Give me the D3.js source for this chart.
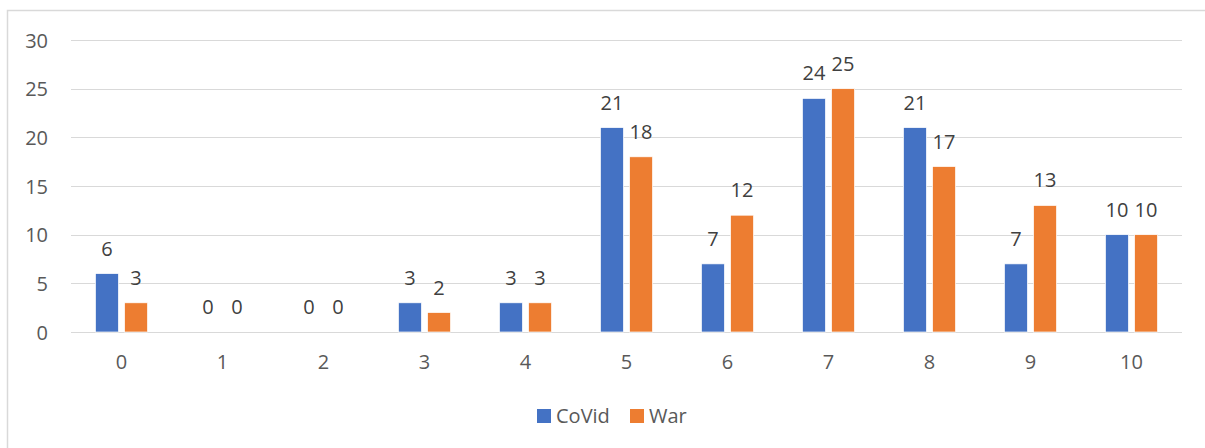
<!DOCTYPE html>
<html lang="en">

<head>
  <meta charset="utf-8">
  <title>CoVid vs War</title>
  <style>
    body {
      margin: 0;
      background: #fff;
    }

    .grid line {
      stroke: #d9d9d9;
      stroke-width: 1.3;
      shape-rendering: crispEdges;
    }

    .axis text {
      font: 20px "Open Sans", sans-serif;
      fill: #595959;
    }

    .label {
      font: 20px "Open Sans", sans-serif;
      fill: #404040;
    }

    .legend text {
      font: 20px "Open Sans", sans-serif;
      fill: #595959;
    }
  </style>
</head>

<body>
  <div id="chart"></div>
</body>
<script src="https://d3js.org/d3.v7.min.js"></script>

<script>

  let categories = ["0", "1", "2", "3", "4", "5", "6", "7", "8", "9", "10"];
  let seriesNames = ["CoVid", "War"];
  let covid = [6, 0, 0, 3, 3, 21, 7, 24, 21, 7, 10];
  let war = [3, 0, 0, 2, 3, 18, 12, 25, 17, 13, 10];
  let yTicks = [0, 5, 10, 15, 20, 25, 30];
  let colors = ["#4472c4", "#ed7d31"];

  let W = 1205;
  let H = 448;
  let plotL = 71, plotR = 1182, plotT = 40, plotB = 332;

  let svg = d3.select("#chart")
    .append("svg")
    .attr("width", W)
    .attr("height", H);

  // chart border (runs off the right and bottom edges)
  svg.append("rect")
    .attr("x", 7.5)
    .attr("y", 10.5)
    .attr("width", W + 20)
    .attr("height", H + 20)
    .attr("fill", "none")
    .attr("stroke", "#d9d9d9")
    .attr("stroke-width", 1.5);

  let x0 = d3.scaleBand().domain(categories).range([plotL, plotR]);
  let x1 = d3.scaleBand().domain(seriesNames).range([0, x0.bandwidth()])
    .paddingInner(0.21).paddingOuter(0.84);
  let y = d3.scaleLinear().domain([0, 30]).range([plotB, plotT]);

  // gridlines
  svg.append("g")
    .attr("class", "grid")
    .selectAll("line")
    .data(yTicks)
    .enter()
    .append("line")
    .attr("x1", plotL)
    .attr("x2", plotR)
    .attr("y1", (d) => Math.round(y(d)) + 0.5)
    .attr("y2", (d) => Math.round(y(d)) + 0.5);

  // y axis labels
  let yAxis = svg.append("g")
    .attr("class", "axis")
    .attr("transform", "translate(" + 48 + ",0)")
    .call(d3.axisLeft(y).tickValues(yTicks).tickSize(0).tickPadding(0));
  yAxis.select(".domain").remove();
  yAxis.selectAll("text").attr("dy", "0.35em");

  // x axis labels
  let xAxis = svg.append("g")
    .attr("class", "axis")
    .attr("transform", "translate(0," + plotB + ")")
    .call(d3.axisBottom(x0).tickSize(0).tickPadding(0));
  xAxis.select(".domain").remove();
  xAxis.selectAll("text").attr("dy", "1.85em");

  let rows = categories.map((c, i) => {
    return { cat: c, values: [covid[i], war[i]] };
  });

  let group = svg.selectAll(".group")
    .data(rows)
    .enter()
    .append("g")
    .attr("class", "group")
    .attr("transform", (d) => "translate(" + x0(d.cat) + ",0)");

  group.selectAll("rect")
    .data((d) => d.values.map((v, j) => ({ name: seriesNames[j], v: v, j: j })))
    .enter()
    .append("rect")
    .attr("x", (d) => x1(d.name))
    .attr("y", (d) => y(d.v))
    .attr("width", x1.bandwidth())
    .attr("height", (d) => y(0) - y(d.v))
    .attr("fill", (d) => colors[d.j])
    .attr("stroke", "#fff")
    .attr("stroke-width", 0.7);

  group.selectAll(".label")
    .data((d) => d.values.map((v, j) => ({ name: seriesNames[j], v: v })))
    .enter()
    .append("text")
    .attr("class", "label")
    .attr("text-anchor", "middle")
    .attr("x", (d) => x1(d.name) + x1.bandwidth() / 2)
    .attr("y", (d) => y(d.v) - 18)
    .text((d) => d.v);

  // legend
  let legendX = [537, 630];
  let legend = svg.append("g").attr("class", "legend");
  seriesNames.forEach((name, i) => {
    legend.append("rect")
      .attr("x", legendX[i])
      .attr("y", 409)
      .attr("width", 14)
      .attr("height", 14)
      .attr("fill", colors[i]);
    legend.append("text")
      .attr("x", legendX[i] + 19)
      .attr("y", 416)
      .attr("dy", "0.35em")
      .text(name);
  });

</script>
</html>
